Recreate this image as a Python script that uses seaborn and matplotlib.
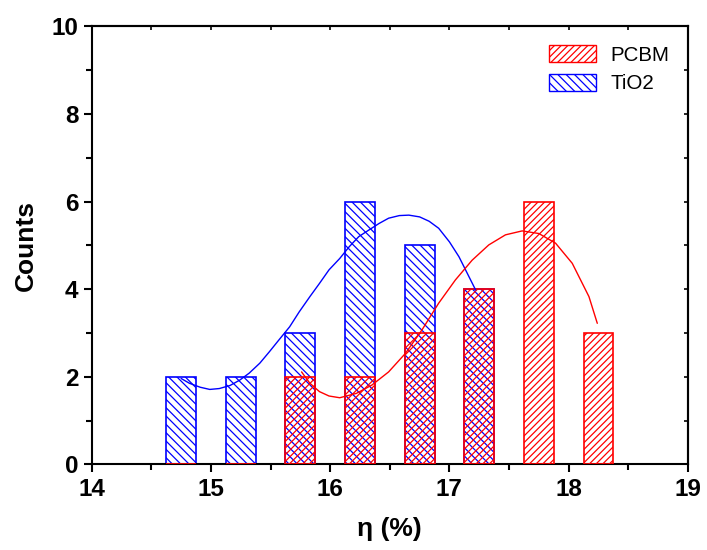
"""
Efficiency histogram: PCBM vs TiO2
"""
import matplotlib
matplotlib.use('Agg')
import matplotlib.pyplot as plt
import seaborn as sns
import pandas as pd
from matplotlib.patches import Patch
from matplotlib.ticker import MultipleLocator

# Histogram bins (bar centres) and counts
bin_centers = [14.75, 15.25, 15.75, 16.25, 16.75, 17.25, 17.75, 18.25]
pcbm_counts = [0, 0, 2, 2, 3, 4, 6, 3]
tio2_counts = [2, 2, 3, 6, 5, 4, 0, 0]

# Fitted curves
tio2_fit_x = [14.75, 14.82, 14.91, 14.99, 15.07, 15.16, 15.24, 15.32, 15.41, 15.49,
              15.57, 15.66, 15.74, 15.83, 15.91, 15.99, 16.08, 16.16, 16.24, 16.33,
              16.41, 16.49, 16.58, 16.66, 16.75, 16.83, 16.91, 17.00, 17.08, 17.15,
              17.22]
tio2_fit_y = [1.96, 1.85, 1.76, 1.71, 1.73, 1.80, 1.92, 2.08, 2.31, 2.57,
              2.84, 3.14, 3.48, 3.83, 4.13, 4.44, 4.70, 4.97, 5.20, 5.36,
              5.50, 5.62, 5.68, 5.69, 5.65, 5.55, 5.39, 5.08, 4.74, 4.36,
              3.98]
pcbm_fit_x = [15.76, 15.83, 15.91, 15.99, 16.08, 16.22, 16.35, 16.49, 16.63, 16.77,
              16.91, 17.05, 17.19, 17.33, 17.47, 17.61, 17.75, 17.89, 18.03, 18.17,
              18.24]
pcbm_fit_y = [2.11, 1.85, 1.66, 1.56, 1.52, 1.62, 1.81, 2.11, 2.53, 3.07,
              3.68, 4.21, 4.66, 5.01, 5.24, 5.33, 5.27, 5.05, 4.59, 3.83,
              3.22]

bar_width = 0.25

sns.set_style('ticks')
plt.rcParams['font.family'] = ['Liberation Sans', 'DejaVu Sans']
plt.rcParams['hatch.linewidth'] = 0.9
plt.rcParams['text.color'] = 'black'
plt.rcParams['axes.labelcolor'] = 'black'
plt.rcParams['xtick.color'] = 'black'
plt.rcParams['ytick.color'] = 'black'

fig = plt.figure(figsize=(7.07, 5.5), dpi=100)
ax = fig.add_axes([0.1297, 0.1558, 0.8433, 0.7962])

# Bars: transparent faces so the hatches cross where they overlap
ax.bar(bin_centers, tio2_counts, width=bar_width, facecolor='none',
       edgecolor='blue', hatch='\\\\\\\\', linewidth=1.2, zorder=2)
ax.bar(bin_centers, pcbm_counts, width=bar_width, facecolor='none',
       edgecolor='red', hatch='/////', linewidth=1.2, zorder=3)

fit_tio2 = pd.DataFrame({'x': tio2_fit_x, 'y': tio2_fit_y})
fit_pcbm = pd.DataFrame({'x': pcbm_fit_x, 'y': pcbm_fit_y})
sns.lineplot(data=fit_tio2, x='x', y='y', color='blue', linewidth=1.0,
             sort=False, ax=ax, zorder=4)
sns.lineplot(data=fit_pcbm, x='x', y='y', color='red', linewidth=1.0,
             sort=False, ax=ax, zorder=4)

ax.set_xlim(14, 19)
ax.set_ylim(0, 10)
ax.xaxis.set_major_locator(MultipleLocator(1))
ax.xaxis.set_minor_locator(MultipleLocator(0.5))
ax.yaxis.set_major_locator(MultipleLocator(2))
ax.yaxis.set_minor_locator(MultipleLocator(1))

for side in ['top', 'right', 'left', 'bottom']:
    ax.spines[side].set_visible(True)
    ax.spines[side].set_linewidth(1.5)
    ax.spines[side].set_color('black')

ax.tick_params(which='major', direction='out', length=6, width=1.5,
               labelsize=17.5, top=False, right=False)
ax.tick_params(which='minor', direction='out', length=4, width=1.5,
               top=False, right=False)
for lab in ax.get_xticklabels() + ax.get_yticklabels():
    lab.set_fontweight('bold')

# Inward ticks on the top and right frame
sec_x = ax.secondary_xaxis('top')
sec_x.xaxis.set_major_locator(MultipleLocator(1))
sec_x.xaxis.set_minor_locator(MultipleLocator(0.5))
sec_x.tick_params(which='both', direction='in', length=3, width=1.2, labeltop=False)
sec_x.spines['top'].set_linewidth(1.5)
sec_y = ax.secondary_yaxis('right')
sec_y.yaxis.set_major_locator(MultipleLocator(2))
sec_y.yaxis.set_minor_locator(MultipleLocator(1))
sec_y.tick_params(which='both', direction='in', length=3, width=1.2, labelright=False)
sec_y.spines['right'].set_linewidth(1.5)

ax.set_xlabel('η (%)', fontsize=19, fontweight='bold', labelpad=12)
ax.set_ylabel('Counts', fontsize=19, fontweight='bold', labelpad=10)

handles = [Patch(facecolor='none', edgecolor='red', hatch='/////', label='PCBM'),
           Patch(facecolor='none', edgecolor='blue', hatch='\\\\\\\\', label='TiO2')]
ax.legend(handles=handles, loc='upper right', frameon=False, fontsize=14.8,
          handlelength=2.3, handleheight=0.9, handletextpad=0.7,
          borderaxespad=0.5, labelspacing=0.45)

plt.savefig('out.png', dpi=100)
plt.close()
